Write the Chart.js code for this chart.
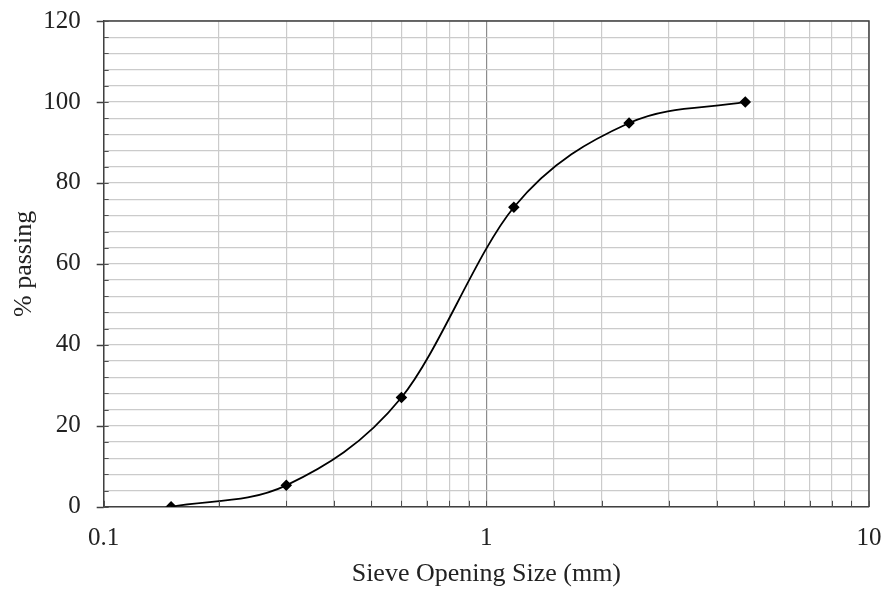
<!DOCTYPE html>
<html>
<head>
<meta charset="utf-8">
<script src="https://cdn.jsdelivr.net/npm/chart.js@4/dist/chart.umd.min.js"></script>
<style>
html,body{margin:0;padding:0;background:#fff;}
#wrap{width:885px;height:590px;}
</style>
</head>
<body>
<div id="wrap"><canvas id="c" width="885" height="590"></canvas></div>
<script>
const sieveSizes = [0.15, 0.3, 0.6, 1.18, 2.36, 4.75];
const percentPassing = [0, 5.3, 27, 74, 94.8, 100];
const xTickLabels = [0.1, 1, 10];
const yTickLabels = [0, 20, 40, 60, 80, 100, 120];

const FONT = "'Liberation Serif', 'Times New Roman', serif";

const borderPlugin = {
  id: 'plotBorder',
  afterDraw(chart) {
    const a = chart.chartArea, ctx = chart.ctx;
    const xs = chart.scales.x, ys = chart.scales.y;
    ctx.save();
    ctx.strokeStyle = '#404040';
    ctx.lineWidth = 1.5;
    ctx.beginPath();
    ctx.moveTo(a.left, a.top); ctx.lineTo(a.right, a.top); ctx.lineTo(a.right, a.bottom);
    ctx.stroke();
    // outward major ticks on y axis
    ctx.beginPath();
    ys.ticks.forEach(t => {
      if (!yTickLabels.includes(t.value)) return;
      const py = Math.round(ys.getPixelForValue(t.value)) + 0.5;
      ctx.moveTo(a.left - 7, py); ctx.lineTo(a.left, py);
    });
    ctx.stroke();
    // inner minor ticks
    ctx.lineWidth = 1;
    ctx.strokeStyle = '#505050';
    ctx.beginPath();
    xs.ticks.forEach(t => {
      const px = Math.round(xs.getPixelForValue(t.value)) + 0.5;
      ctx.moveTo(px, a.bottom); ctx.lineTo(px, a.bottom - 6);
    });
    ys.ticks.forEach(t => {
      const py = Math.round(ys.getPixelForValue(t.value)) + 0.5;
      ctx.moveTo(a.left, py); ctx.lineTo(a.left + 5, py);
    });
    ctx.stroke();
    ctx.restore();
  }
};

new Chart(document.getElementById('c'), {
  type: 'line',
  data: {
    datasets: [{
      data: sieveSizes.map((x, i) => ({x: x, y: percentPassing[i]})),
      borderColor: '#000',
      backgroundColor: '#000',
      borderWidth: 1.8,
      cubicInterpolationMode: 'monotone',
      pointStyle: 'rectRot',
      pointRadius: 4.5,
      pointBackgroundColor: '#000',
      pointBorderColor: '#000',
      fill: false
    }]
  },
  options: {
    responsive: false,
    animation: false,
    layout: {padding: {top: 21, right: 16, bottom: 0, left: 9}},
    plugins: {legend: {display: false}, tooltip: {enabled: false}},
    scales: {
      x: {
        type: 'logarithmic',
        min: 0.1, max: 10,
        border: {color: '#404040', width: 1.5},
        grid: {
          color: ctx => (ctx.tick && Math.abs(ctx.tick.value - 1) < 1e-9) ? '#8c8c8c' : '#cbcbcb',
          lineWidth: 1.2,
          tickLength: 17,
          tickColor: 'rgba(0,0,0,0)'
        },
        ticks: {
          autoSkip: false,
          maxRotation: 0,
          color: '#222',
          font: {family: FONT, size: 25},
          padding: 0,
          callback: function(v) {
            const hit = xTickLabels.find(t => Math.abs(t - v) < 1e-9);
            return hit !== undefined ? String(hit) : '';
          }
        },
        title: {display: true, text: 'Sieve Opening Size (mm)', color: '#222', font: {family: FONT, size: 26}, padding: {top: 5, bottom: 0}}
      },
      y: {
        min: 0, max: 120,
        border: {color: '#404040', width: 1.5},
        grid: {
          color: '#cbcbcb',
          lineWidth: 1.2,
          tickLength: 23,
          tickColor: 'rgba(0,0,0,0)'
        },
        ticks: {
          stepSize: 4,
          autoSkip: false,
          color: '#222',
          font: {family: FONT, size: 25},
          padding: 0,
          callback: v => yTickLabels.includes(v) ? String(v) : ''
        },
        title: {display: true, text: '% passing', color: '#222', font: {family: FONT, size: 26}, padding: {top: 0, bottom: 3}}
      }
    }
  },
  plugins: [borderPlugin]
});
</script>
</body>
</html>
